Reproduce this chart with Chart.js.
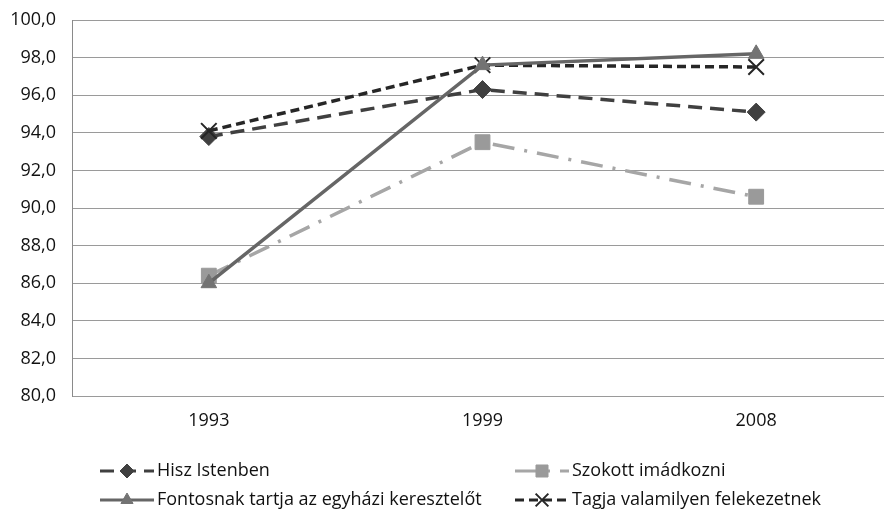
<!DOCTYPE html>
<html>
<head>
<meta charset="utf-8">
<script src="https://cdn.jsdelivr.net/npm/chart.js@4/dist/chart.umd.min.js"></script>
<style>
    html, body { margin: 0; padding: 0; background: #fff; overflow: hidden; }
    #wrap { width: 884px; height: 509px; overflow: hidden; }
</style>
</head>
<body>
<div id="wrap"><canvas id="chart" width="906" height="509"></canvas></div>
<script>
// Data
const years = ['1993', '1999', '2008'];
const hiszIstenben = [93.8, 96.3, 95.1];
const szokottImadkozni = [86.4, 93.5, 90.6];
const fontosnakKereszt = [86.0, 97.6, 98.2];
const tagjaFelekezet = [94.1, 97.6, 97.5];
const seriesLabels = [
    'Hisz Istenben',
    'Szokott imádkozni',
    'Fontosnak tartja az egyházi keresztelőt',
    'Tagja valamilyen felekezetnek'
];
const yMin = 80, yMax = 100, yStep = 2;

const FONT = '"Open Sans", "Liberation Sans", sans-serif';

// Legend drawn on canvas in two fixed columns, like the original
const twoColumnLegend = {
    id: 'twoColumnLegend',
    afterDraw(chart) {
        const ctx = chart.ctx;
        const cols = [100, 515];
        const rows = [471, 500];
        chart.data.datasets.forEach((ds, i) => {
            const x0 = cols[i % 2];
            const y = rows[Math.floor(i / 2)];
            ctx.save();
            ctx.strokeStyle = ds.borderColor;
            ctx.lineWidth = 3;
            ctx.setLineDash(ds.borderDash || []);
            ctx.beginPath();
            ctx.moveTo(x0, y);
            ctx.lineTo(x0 + 54, y);
            ctx.stroke();
            ctx.setLineDash([]);
            ctx.fillStyle = ds.pointBackgroundColor;
            ctx.strokeStyle = ds.pointBorderColor;
            ctx.lineWidth = ds.pointBorderWidth;
            Chart.helpers.drawPoint(ctx, {
                pointStyle: ds.pointStyle,
                radius: ds.pointRadius - 2,
                borderWidth: ds.pointBorderWidth,
                rotation: 0
            }, x0 + 27, y);
            ctx.fillStyle = '#111';
            ctx.font = '18px ' + FONT;
            ctx.textBaseline = 'middle';
            ctx.fillText(ds.label, x0 + 57, y);
            ctx.restore();
        });
    }
};

const ctx = document.getElementById('chart').getContext('2d');
new Chart(ctx, {
    type: 'line',
    data: {
        labels: years,
        datasets: [
            {
                label: seriesLabels[0],
                data: hiszIstenben,
                borderColor: '#404040',
                borderWidth: 3.5,
                borderDash: [14, 8],
                pointStyle: 'rectRot',
                pointRadius: 9,
                pointBackgroundColor: '#404040',
                pointBorderColor: '#404040',
                pointBorderWidth: 1,
                order: 3
            },
            {
                label: seriesLabels[1],
                data: szokottImadkozni,
                borderColor: '#a6a6a6',
                borderWidth: 3.5,
                borderDash: [22, 10, 3, 10],
                pointStyle: 'rect',
                pointRadius: 10.5,
                pointBackgroundColor: '#9a9a9a',
                pointBorderColor: '#9a9a9a',
                pointBorderWidth: 1,
                order: 4
            },
            {
                label: seriesLabels[2],
                data: fontosnakKereszt,
                borderColor: '#666666',
                borderWidth: 3.5,
                borderDash: [],
                pointStyle: 'triangle',
                pointRadius: 9,
                pointBackgroundColor: '#737373',
                pointBorderColor: '#737373',
                pointBorderWidth: 1,
                order: 1
            },
            {
                label: seriesLabels[3],
                data: tagjaFelekezet,
                borderColor: '#262626',
                borderWidth: 3.5,
                borderDash: [9, 5],
                pointStyle: 'crossRot',
                pointRadius: 11,
                pointBackgroundColor: '#262626',
                pointBorderColor: '#262626',
                pointBorderWidth: 2,
                order: 2
            }
        ]
    },
    options: {
        responsive: false,
        animation: false,
        layout: { padding: { top: 20, right: 0, bottom: 73, left: 0 } },
        plugins: {
            legend: { display: false },
            tooltip: { enabled: false }
        },
        elements: { line: { tension: 0 } },
        scales: {
            x: {
                offset: true,
                grid: { display: false, drawTicks: false },
                border: { display: false },
                ticks: {
                    color: '#111',
                    font: { family: FONT, size: 18 },
                    padding: 14,
                    maxRotation: 0
                },
                afterFit(scale) { scale.height = 40; }
            },
            y: {
                min: yMin,
                max: yMax,
                grid: { color: '#9a9a9a', lineWidth: 1, drawTicks: false },
                border: { display: true, color: '#8a8a8a', width: 1 },
                ticks: {
                    stepSize: yStep,
                    color: '#111',
                    font: { family: FONT, size: 18 },
                    padding: 16,
                    callback: v => v.toFixed(1).replace('.', ',')
                },
                afterFit(scale) {
                    scale.width = 72;
                    scale.paddingTop = 0;
                    scale.paddingBottom = 0;
                }
            }
        }
    },
    plugins: [twoColumnLegend]
});
</script>
</body>
</html>
